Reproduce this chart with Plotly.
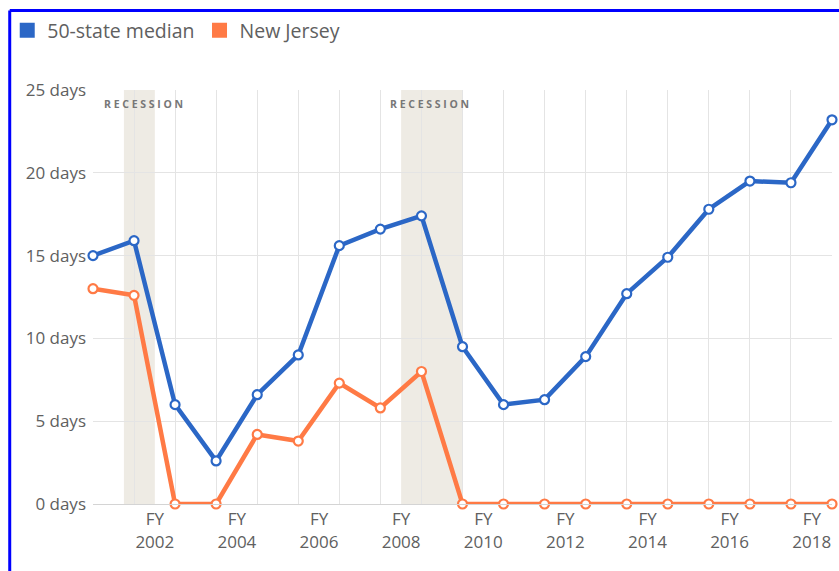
import plotly.graph_objects as go
import pandas as pd

# ---- data ----
fiscal_years = list(range(2000, 2019))
median_days = [15.0, 15.9, 6.0, 2.6, 6.6, 9.0, 15.6, 16.6, 17.4, 9.5,
               6.0, 6.3, 8.9, 12.7, 14.9, 17.8, 19.5, 19.4, 23.2]
nj_days = [13.0, 12.6, 0, 0, 4.2, 3.8, 7.3, 5.8, 8.0, 0,
           0, 0, 0, 0, 0, 0, 0, 0, 0]
tick_years = [2002, 2004, 2006, 2008, 2010, 2012, 2014, 2016, 2018]
recession_start = ["2001-04-01", "2008-01-01"]
recession_end = ["2002-01-01", "2009-07-01"]
series_names = ["50-state median", "New Jersey"]

BLUE = "#2b67c6"
ORANGE = "#ff7a45"
TEXT = "#606060"
GRID = "#e4e4e4"
FONT = "Open Sans"

# points are dated at fiscal-year end (June 30)
x_dates = [f"{y}-06-30" for y in fiscal_years]
tick_dates = [f"{y}-01-01" for y in tick_years]
tick_text = [f"FY<br>{y}" for y in tick_years]

fig = go.Figure()

for name, vals, col in [(series_names[0], median_days, BLUE),
                        (series_names[1], nj_days, ORANGE)]:
    fig.add_trace(go.Scatter(
        x=x_dates, y=vals, mode="lines+markers", name=name,
        line=dict(color=col, width=4.5),
        marker=dict(size=9, color="white", line=dict(color=col, width=2.2)),
        cliponaxis=False, showlegend=False,
    ))
    # legend proxy (square swatch)
    fig.add_trace(go.Scatter(
        x=[None], y=[None], mode="markers", name=name,
        marker=dict(symbol="square", size=15, color=col),
        showlegend=True,
    ))

shapes = []
annotations = []
label_shift = [4, -2]
for s, e, sh in zip(recession_start, recession_end, label_shift):
    shapes.append(dict(type="rect", xref="x", yref="paper", x0=s, x1=e,
                       y0=0, y1=1, fillcolor="#eeebe4", line=dict(width=0),
                       layer="below"))
    mid = pd.Timestamp(s) + (pd.Timestamp(e) - pd.Timestamp(s)) / 2
    annotations.append(dict(x=mid.strftime("%Y-%m-%d"), xref="x",
                            y=(504 - 104) / 414, yref="paper", xshift=sh,
                            text="<b>R E C E S S I O N</b>", showarrow=False,
                            font=dict(family=FONT, size=10.5, color="#777777"),
                            xanchor="center", yanchor="middle"))

# outer blue frame (left and top edges visible)
L, T, W, H = 91, 90, 741, 414
def px(xp):
    return (xp - L) / W
def py(yp):
    return (T + H - yp) / H
shapes.append(dict(type="line", xref="paper", yref="paper",
                   x0=px(7.5), x1=px(7.5), y0=py(10.5), y1=py(600),
                   line=dict(color="#0000ff", width=3), layer="above"))
shapes.append(dict(type="line", xref="paper", yref="paper",
                   x0=px(7.5), x1=px(900), y0=py(10.5), y1=py(10.5),
                   line=dict(color="#0000ff", width=3), layer="above"))

fig.update_layout(
    width=839, height=571,
    margin=dict(l=L, r=839 - L - W, t=T, b=571 - T - H),
    paper_bgcolor="white", plot_bgcolor="white",
    font=dict(family=FONT, color=TEXT, size=17),
    legend=dict(orientation="h", x=px(5), xanchor="left",
                y=py(11), yanchor="top", itemwidth=30,
                font=dict(family=FONT, size=19.5, color=TEXT),
                itemclick=False, itemdoubleclick=False,
                bgcolor="rgba(0,0,0,0)"),
    shapes=shapes, annotations=annotations,
    showlegend=True,
)

fig.update_xaxes(
    type="date", range=[x_dates[0], x_dates[-1]],
    tickmode="array", tickvals=tick_dates, ticktext=tick_text,
    showgrid=False, ticks="", zeroline=False,
    showline=True, linecolor="#d4d4d4", linewidth=1,
    tickfont=dict(family=FONT, size=17, color=TEXT),
    minor=dict(tickmode="array", tickvals=x_dates, showgrid=True,
               gridcolor=GRID, gridwidth=1, ticks=""),
)
fig.update_yaxes(
    range=[0, 25], tickmode="linear", tick0=0, dtick=5,
    ticksuffix=" days", showgrid=True, gridcolor=GRID, gridwidth=1,
    zeroline=False, ticks="", ticklabelstandoff=6,
    tickfont=dict(family=FONT, size=17, color=TEXT),
)

fig.write_html("out.html",
               config={"displayModeBar": False},
               post_script="document.body.style.margin='0px';"
                           "document.body.style.padding='0px';")
